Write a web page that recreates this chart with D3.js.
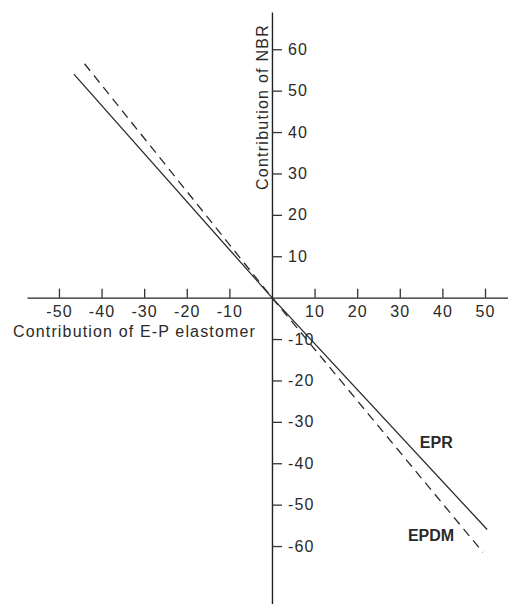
<!DOCTYPE html>
<html>
<head>
<meta charset="utf-8">
<script src="https://cdn.jsdelivr.net/npm/d3@7"></script>
<style>
  html, body { margin: 0; padding: 0; background: #fff; }
  svg text { font-family: "Liberation Sans", Arial, sans-serif; fill: #2a2a2a; }
</style>
</head>
<body>
<div id="chart"></div>
<script>
"use strict";

// values
const xTicks = [-50, -40, -30, -20, -10, 10, 20, 30, 40, 50];
const yTicks = [60, 50, 40, 30, 20, 10, -10, -20, -30, -40, -50, -60];
const eprX = [-46.5, 0, 50.5];
const eprY = [54, 0, -56];
const epdmX = [-44, 0, 49.5];
const epdmY = [56.5, 0, -61.5];
const xTitle = "Contribution of E-P elastomer";
const yTitle = "Contribution of NBR";

const W = 508, H = 604;

const svg = d3.select("#chart")
  .append("svg")
  .attr("width", W)
  .attr("height", H);

const xScale = d3.scaleLinear()
  .domain([-57.5, 55.4])
  .range([27, W]);

const yScale = d3.scaleLinear()
  .domain([69, -74])
  .range([12, H]);

const x0 = xScale(0);
const y0 = yScale(0);

// plain hyphen for negatives, as in the original
const fmt = d => String(d);

// horizontal axis: ticks point up, labels below
const xAxis = svg.append("g")
  .attr("transform", `translate(0, ${y0})`)
  .call(d3.axisBottom(xScale)
    .tickValues(xTicks)
    .tickFormat(fmt)
    .tickSizeInner(-9)
    .tickSizeOuter(0)
    .tickPadding(8));

// vertical axis: ticks and labels to the right
const yAxis = svg.append("g")
  .attr("transform", `translate(${x0}, 0)`)
  .call(d3.axisRight(yScale)
    .tickValues(yTicks)
    .tickFormat(fmt)
    .tickSizeInner(10)
    .tickSizeOuter(0)
    .tickPadding(6));

[xAxis, yAxis].forEach(g => {
  g.attr("font-family", null).attr("font-size", null);
  g.select(".domain").attr("stroke", "#222").attr("stroke-width", 1.4);
  g.selectAll(".tick line").attr("stroke", "#333").attr("stroke-width", 1.3);
  g.selectAll(".tick text")
    .style("font-size", "16px")
    .style("letter-spacing", "1.1px")
    .attr("fill", "#2a2a2a");
});

svg.append("text")
  .attr("x", 13)
  .attr("y", 337)
  .style("font-size", "16px")
  .style("letter-spacing", "1.15px")
  .text(xTitle);

svg.append("text")
  .attr("transform", `translate(268, 190) rotate(-90)`)
  .style("font-size", "16px")
  .style("letter-spacing", "1.25px")
  .text(yTitle);

const line = d3.line()
  .x(d => xScale(d[0]))
  .y(d => yScale(d[1]));

svg.append("path")
  .datum(d3.zip(eprX, eprY))
  .attr("d", line)
  .attr("fill", "none")
  .attr("stroke", "#2a2a2a")
  .attr("stroke-width", 1.3);

svg.append("path")
  .datum(d3.zip(epdmX, epdmY))
  .attr("d", line)
  .attr("fill", "none")
  .attr("stroke", "#2a2a2a")
  .attr("stroke-width", 1.3)
  .attr("stroke-dasharray", "9,6");

svg.append("text")
  .attr("x", xScale(34.7))
  .attr("y", yScale(-36.2))
  .style("font-size", "16px")
  .style("font-weight", "bold")
  .text("EPR");

svg.append("text")
  .attr("x", xScale(31.9))
  .attr("y", yScale(-58.9))
  .style("font-size", "16px")
  .style("font-weight", "bold")
  .text("EPDM");
</script>
</body>
</html>
